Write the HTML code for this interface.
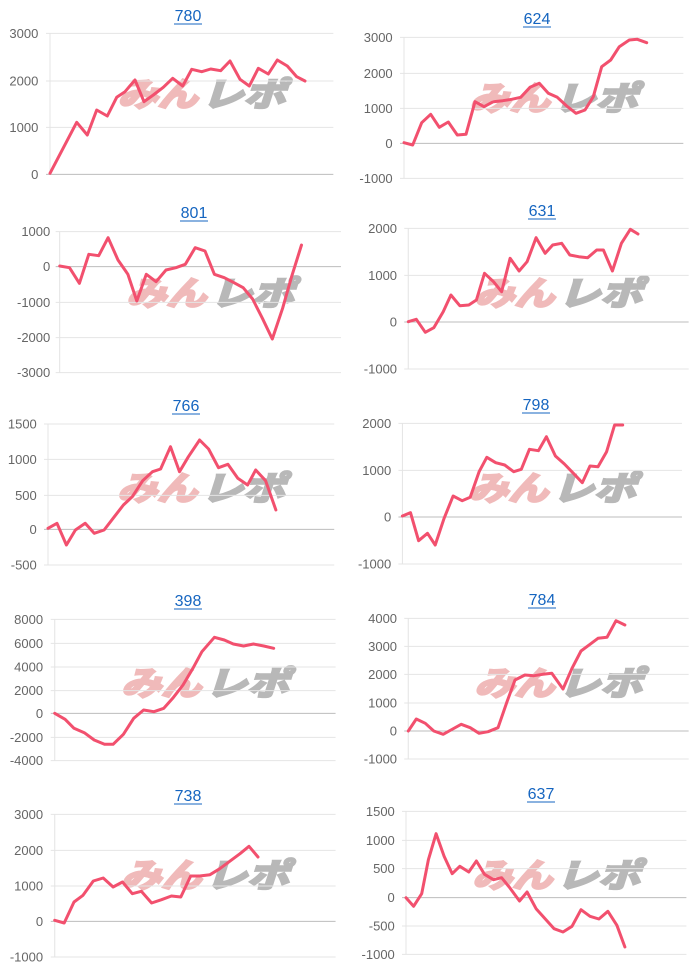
<!DOCTYPE html>
<html><head><meta charset="utf-8">
<style>
html,body{margin:0;padding:0;background:#fff;width:700px;height:972px;overflow:hidden}
svg{display:block}
text{font-family:"Liberation Sans","Noto Sans CJK JP",sans-serif}
</style></head><body>
<svg id="s" width="700" height="972" xmlns="http://www.w3.org/2000/svg"></svg>
<script>
const S=document.getElementById('s');
const NS='http://www.w3.org/2000/svg';
function el(n,a,t){const e=document.createElementNS(NS,n);for(const k in a)e.setAttribute(k,a[k]);if(t!==undefined)e.textContent=t;S.appendChild(e);return e;}
const Z={
 z1:{sx:3,ox:0,sy:3,oy:0},
 z2:{sx:3,ox:350,sy:3,oy:0},
 z3:{sx:2.229,ox:0,sy:3,oy:195},
 z4:{sx:2.229,ox:0,sy:3,oy:390},
 z5:{sx:2.229,ox:0,sy:3,oy:585},
 z6:{sx:2.229,ox:0,sy:3,oy:777}
};
const P=[
{z:'z1',t:'780',tx:188,ty:15,x0:150,x1:1000,lab:115,ticks:[[100,'3000'],[243,'2000'],[382,'1000'],[523,'0']],zero:523,
 d:[[150,520],[230,367],[262,405],[290,330],[322,348],[350,292],[375,275],[405,240],[432,305],[460,285],[490,262],[518,235],[548,258],[575,208],[605,215],[632,207],[662,212],[690,183],[720,238],[748,258],[775,205],[805,222],[832,180],[862,198],[890,230],[915,243]]},
{z:'z2',t:'624',tx:537,ty:18,x0:162,x1:1000,lab:128,ticks:[[112,'3000'],[220,'2000'],[325,'1000'],[430,'0'],[535,'-1000']],zero:430,
 d:[[162,428],[188,435],[215,368],[242,343],[268,382],[295,366],[322,405],[348,403],[375,305],[402,320],[430,305],[458,302],[485,298],[512,292],[540,262],[568,250],[595,280],[622,292],[650,318],[678,340],[705,330],[730,290],[755,200],[782,180],[808,140],[838,120],[862,118],[890,128]]},
{z:'z3',t:'801',tx:194,ty:212,x0:133,x1:760,lab:112,ticks:[[110,'1000'],[215,'0'],[322,'-1000'],[428,'-2000'],[533,'-3000']],zero:215,
 d:[[133,213],[155,218],[177,265],[198,178],[220,182],[241,128],[263,195],[285,238],[305,318],[326,238],[348,260],[370,225],[392,218],[413,208],[435,158],[457,168],[478,238],[500,248],[520,262],[542,278],[563,312],[585,370],[607,432],[630,340],[650,245],[672,150]]},
{z:'z3',t:'631',tx:542,ty:210,x0:910,x1:1535,lab:885,ticks:[[100,'2000'],[241,'1000'],[381,'0'],[522,'-1000']],zero:381,
 d:[[910,380],[928,373],[948,412],[967,398],[988,350],[1005,300],[1025,332],[1045,330],[1062,315],[1080,235],[1100,260],[1118,290],[1137,190],[1157,228],[1175,200],[1195,128],[1215,175],[1232,150],[1252,145],[1270,180],[1290,185],[1310,188],[1330,165],[1345,165],[1365,228],[1385,145],[1405,103],[1422,117]]},
{z:'z4',t:'766',tx:186,ty:405,x0:107,x1:745,lab:82,ticks:[[102,'1500'],[208,'1000'],[316,'500'],[418,'0'],[525,'-500']],zero:418,
 d:[[107,415],[127,400],[148,465],[168,420],[190,400],[210,430],[232,420],[252,385],[275,345],[295,320],[318,272],[340,245],[358,237],[380,170],[400,245],[420,200],[445,150],[465,177],[487,233],[508,223],[530,265],[552,285],[570,240],[592,272],[615,360]]},
{z:'z4',t:'798',tx:536,ty:404,x0:897,x1:1520,lab:872,ticks:[[100,'2000'],[241,'1000'],[381,'0'],[522,'-1000']],zero:381,
 d:[[897,378],[915,368],[933,452],[953,430],[970,465],[990,385],[1010,318],[1030,332],[1048,322],[1068,245],[1085,202],[1105,218],[1125,225],[1145,245],[1162,238],[1180,178],[1200,182],[1218,140],[1238,198],[1258,222],[1278,250],[1298,278],[1315,228],[1333,230],[1352,185],[1370,105],[1388,105]]},
{z:'z5',t:'398',tx:188,ty:600,x0:122,x1:748,lab:96,ticks:[[103,'8000'],[175,'6000'],[246,'4000'],[317,'2000'],[385,'0'],[457,'-2000'],[527,'-4000']],zero:385,
 d:[[122,385],[145,403],[165,430],[188,443],[210,465],[233,478],[252,478],[275,448],[298,400],[320,375],[343,380],[365,370],[385,340],[408,300],[430,250],[450,200],[478,157],[500,165],[520,177],[543,183],[565,177],[588,183],[610,190]]},
{z:'z5',t:'784',tx:542,ty:599,x0:910,x1:1535,lab:885,ticks:[[100,'4000'],[184,'3000'],[268,'2000'],[354,'1000'],[438,'0'],[522,'-1000']],zero:438,
 d:[[910,438],[928,402],[948,415],[967,438],[988,448],[1005,435],[1028,418],[1048,428],[1068,445],[1088,440],[1110,428],[1130,350],[1148,285],[1170,270],[1190,272],[1210,268],[1230,265],[1255,312],[1275,250],[1295,198],[1315,178],[1333,160],[1353,157],[1373,107],[1393,120]]},
{z:'z6',t:'738',tx:188,ty:795,x0:122,x1:748,lab:96,ticks:[[112,'3000'],[220,'2000'],[327,'1000'],[433,'0'],[540,'-1000']],zero:433,
 d:[[122,430],[143,438],[165,375],[185,355],[208,312],[230,303],[252,330],[273,315],[295,350],[315,343],[338,378],[360,368],[382,357],[403,360],[425,297],[445,297],[468,293],[490,275],[512,253],[535,230],[555,208],[575,240]]},
{z:'z6',t:'637',tx:541,ty:793,x0:905,x1:1530,lab:880,ticks:[[103,'1500'],[190,'1000'],[275,'500'],[362,'0'],[447,'-500'],[532,'-1000']],zero:362,
 d:[[905,362],[922,388],[940,350],[955,248],[972,170],[990,238],[1008,290],[1025,268],[1045,285],[1062,252],[1080,292],[1100,308],[1118,302],[1135,330],[1158,372],[1175,345],[1195,395],[1215,425],[1235,455],[1255,465],[1275,448],[1295,398],[1315,418],[1335,426],[1355,403],[1375,445],[1393,510]]}
];
P.forEach(p=>{
 const m=Z[p.z];
 const X=v=>v/m.sx+m.ox, Y=v=>v/m.sy+m.oy;
 const x0=X(p.x0),x1=X(p.x1);
 const top=Y(p.ticks[0][0]),bot=Y(p.ticks[p.ticks.length-1][0]);
 const cx=(x0+x1)/2+12;
 const wyy = p.z==='z1'?106:(p.z==='z2'?110:m.oy+110);
 el('text',{x:cx-86,y:wyy,'font-size':33,'font-weight':'bold','font-style':'italic',fill:'#f0baba',stroke:'#f0baba','stroke-width':2.5,textLength:80,lengthAdjust:'spacingAndGlyphs'},'みん');
 el('text',{x:cx-2,y:wyy,'font-size':33,'font-weight':'bold','font-style':'italic',fill:'#b8b8b8',stroke:'#b8b8b8','stroke-width':2.5,textLength:84,lengthAdjust:'spacingAndGlyphs'},'レポ');
 el('line',{x1:x0,y1:top,x2:x0,y2:bot,stroke:'#e4e4e4','stroke-width':1});
 p.ticks.forEach(t=>{
  const y=Y(t[0]);
  el('line',{x1:x0-4,y1:y,x2:x1,y2:y,stroke:t[0]===p.zero?'#bdbdbd':'#e4e4e4','stroke-width':1});
  el('text',{x:X(p.lab),y:y+4.5,'font-size':13,fill:'#666','text-anchor':'end'},t[1]);
 });
 el('polyline',{points:p.d.map(q=>X(q[0]).toFixed(1)+','+Y(q[1]).toFixed(1)).join(' '),fill:'none',stroke:'#f2506e','stroke-width':3,'stroke-linejoin':'round','stroke-linecap':'round'});
 el('text',{x:p.tx,y:p.ty+6,'font-size':16,fill:'#1565c0','text-anchor':'middle'},p.t);
 el('line',{x1:p.tx-14,y1:p.ty+9,x2:p.tx+14,y2:p.ty+9,stroke:'#1565c0','stroke-width':1});
});
</script>
</body></html>
